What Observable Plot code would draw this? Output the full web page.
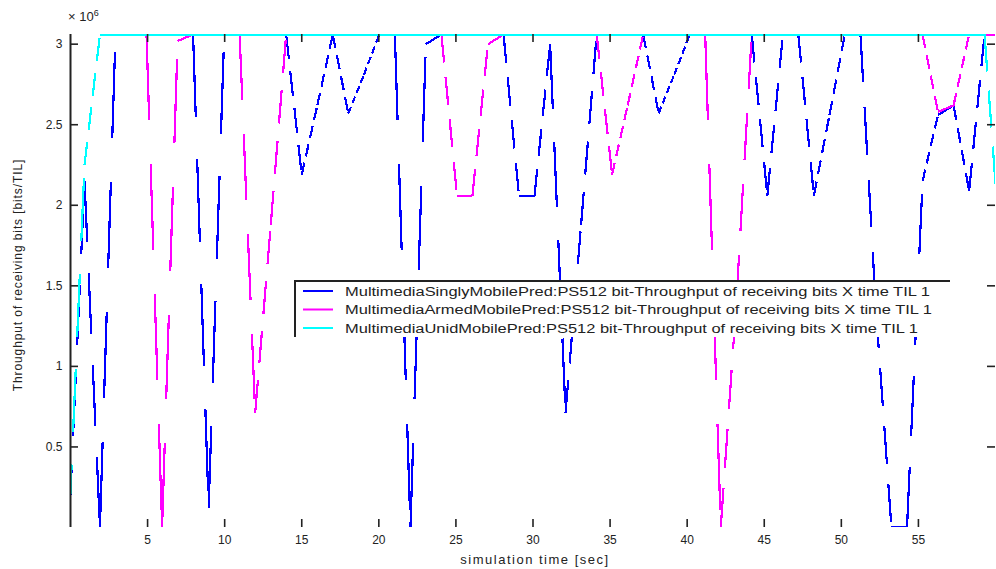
<!DOCTYPE html>
<html>
<head>
<meta charset="utf-8">
<script src="https://cdn.jsdelivr.net/npm/d3@7"></script>
<script src="https://cdn.jsdelivr.net/npm/@observablehq/plot@0.6"></script>
<style>
  html, body { margin: 0; padding: 0; background: #fff; }
  #wrap { position: relative; width: 996px; height: 569px; overflow: hidden; font-family: "Liberation Sans", Arial, sans-serif; color: #222; }
  .ov { position: absolute; white-space: nowrap; }
</style>
</head>
<body>
<div id="wrap"></div>
<script>
// ---- data (throughput in units of 10^6 bits per TIL) ----
const time = [-0.1, 0.91, 1.91, 2.92, 3.93, 4.93, 5.94, 6.95, 7.95, 8.96, 9.97, 10.97, 11.98, 12.99, 13.99, 15.0, 16.01, 17.01, 18.02, 19.03, 20.03, 21.04, 22.05, 23.05, 24.06, 25.07, 26.07, 27.08, 28.09, 29.09, 30.1, 31.11, 32.11, 33.12, 34.13, 35.13, 36.14, 37.15, 38.15, 39.16, 40.17, 41.17, 42.18, 43.19, 44.19, 45.2, 46.21, 47.21, 48.22, 49.23, 50.23, 51.24, 52.25, 53.25, 54.26, 55.27, 56.27, 57.28, 58.29, 59.29, 60.3];

const blueValues = [0, 2.15, 0, 3.06, 3.06, 3.06, 3.06, 3.06, 3.06, 0.12, 3.06, 3.06, 3.06, 3.06, 3.06, 2.19, 2.62, 3.06, 2.57, 2.81, 3.06, 3.06, 0, 3.0, 3.06, 3.06, 3.06, 3.06, 3.06, 2.06, 2.06, 3.0, 0.71, 1.88, 3.06, 3.06, 3.06, 3.06, 2.57, 2.81, 3.06, 3.06, 3.06, 3.06, 3.06, 2.06, 3.06, 3.06, 2.06, 2.56, 3.06, 3.06, 1.35, 0, 0, 2.15, 2.56, 2.62, 2.09, 3.06, 3.06];

const magentaValues = [0, 2.25, 3.06, 3.06, 3.06, 3.06, 0, 3.02, 3.06, 3.06, 3.06, 3.06, 0.71, 1.88, 3.06, 3.06, 3.06, 3.06, 3.06, 3.06, 3.06, 3.06, 3.06, 3.06, 3.06, 2.06, 2.06, 3.0, 3.06, 3.06, 3.06, 3.06, 3.06, 3.06, 3.06, 2.19, 2.62, 3.06, 3.06, 3.06, 3.06, 3.06, 0, 1.4, 3.06, 3.06, 3.06, 3.06, 3.06, 3.06, 3.06, 3.06, 3.06, 3.06, 3.06, 3.06, 2.58, 2.62, 3.06, 3.06, 3.06];

const cyanValues = [0, 2.25, 3.06, 3.06, 3.06, 3.06, 3.06, 3.06, 3.06, 3.06, 3.06, 3.06, 3.06, 3.06, 3.06, 3.06, 3.06, 3.06, 3.06, 3.06, 3.06, 3.06, 3.06, 3.06, 3.06, 3.06, 3.06, 3.06, 3.06, 3.06, 3.06, 3.06, 3.06, 3.06, 3.06, 3.06, 3.06, 3.06, 3.06, 3.06, 3.06, 3.06, 3.06, 3.06, 3.06, 3.06, 3.06, 3.06, 3.06, 3.06, 3.06, 3.06, 3.06, 3.06, 3.06, 3.06, 3.06, 3.06, 3.06, 3.06, 1.74];

const seriesNames = [
  "MultimediaSinglyMobilePred:PS512 bit-Throughput of receiving bits X time TIL 1",
  "MultimediaArmedMobilePred:PS512 bit-Throughput of receiving bits X time TIL 1",
  "MultimediaUnidMobilePred:PS512 bit-Throughput of receiving bits X time TIL 1"
];
const seriesColors = ["#0000ff", "#ff00ff", "#00ffff"];
const seriesValues = [blueValues, magentaValues, cyanValues];

const xTicks = [5, 10, 15, 20, 25, 30, 35, 40, 45, 50, 55];
const yTicks = [0.5, 1, 1.5, 2, 2.5, 3];
const xDomain = [0, 60];
const yDomain = [0, 3.06];

const xLabel = "simulation time [sec]";
const yLabel = "Throughput of receiving bits [bits/TIL]";

// ---- build ----
function segments(values) {
  const out = [];
  for (let i = 0; i < time.length - 1; i++) {
    out.push({x1: time[i], y1: values[i], x2: time[i + 1], y2: values[i + 1]});
  }
  return out;
}

const W = 996, H = 569, mL = 70, mR = 1, mT = 34, mB = 42;
const fW = W - mL - mR, fH = H - mT - mB;
const axisColor = "#222";

const chart = Plot.plot({
  width: W, height: H,
  marginLeft: mL, marginRight: mR, marginTop: mT, marginBottom: mB,
  style: {background: "#fff", color: axisColor, fontFamily: "'Liberation Sans', Arial, sans-serif", fontSize: "12px"},
  x: {domain: xDomain, ticks: xTicks, tickSize: 0, tickPadding: 8, tickFormat: d => String(d), label: null},
  y: {domain: yDomain, ticks: yTicks, tickSize: 0, tickPadding: 8, tickFormat: d => String(d), label: null},
  marks: [
    ...seriesValues.map((vals, s) => Plot.link(segments(vals), {
      x1: "x1", y1: "y1", x2: "x2", y2: "y2",
      stroke: seriesColors[s], strokeWidth: 2.2, clip: true
    })),
    Plot.ruleX([0], {stroke: axisColor, strokeWidth: 2}),
    Plot.tickX(xTicks, {x: d => d, insetTop: fH - 8, stroke: axisColor, strokeWidth: 1.6}),
    Plot.tickX(xTicks, {x: d => d, insetBottom: fH - 8, stroke: axisColor, strokeWidth: 1.6}),
    Plot.tickY(yTicks, {y: d => d, insetRight: fW - 8, stroke: axisColor, strokeWidth: 1.6}),
    Plot.tickY(yTicks, {y: d => d, insetLeft: fW - 8, stroke: axisColor, strokeWidth: 1.6})
  ]
});

const wrap = document.getElementById("wrap");
wrap.appendChild(chart);

// MATLAB-like dashes: dash period follows the horizontal extent of each segment
chart.querySelectorAll('g[aria-label="link"]').forEach(g => g.setAttribute("shape-rendering", "crispEdges"));
chart.querySelectorAll('g[aria-label="link"] path').forEach(p => {
  const L = p.getTotalLength();
  const b = p.getBBox();
  const w = Math.max(b.width, 0.01);
  const ratio = L / w;
  if (ratio < 2) return;
  const period = 4.1 * ratio;
  p.setAttribute("stroke-dasharray", (period * 0.66).toFixed(2) + " " + (period * 0.34).toFixed(2));
});

// exponent
const expo = document.createElement("div");
expo.className = "ov";
expo.style.cssText = "left:68px;top:8px;font-size:13px;";
expo.innerHTML = "&times; 10<sup style='font-size:9px'>6</sup>";
wrap.appendChild(expo);

// axis labels
const xl = document.createElement("div");
xl.className = "ov";
xl.style.cssText = "left:535px;top:552px;transform:translateX(-50%);font-size:13px;letter-spacing:1.5px;";
xl.textContent = xLabel;
wrap.appendChild(xl);

const yl = document.createElement("div");
yl.className = "ov";
yl.style.cssText = "left:18px;top:275px;transform:translate(-50%,-50%) rotate(-90deg);font-size:12px;letter-spacing:0.9px;";
yl.textContent = yLabel;
wrap.appendChild(yl);

// legend
const ns = "http://www.w3.org/2000/svg";
const leg = document.createElementNS(ns, "svg");
leg.setAttribute("width", 656);
leg.setAttribute("height", 57);
leg.style.cssText = "position:absolute;left:294px;top:280px;";
const bg = document.createElementNS(ns, "rect");
bg.setAttribute("x", 0); bg.setAttribute("y", 0); bg.setAttribute("width", 656); bg.setAttribute("height", 57);
bg.setAttribute("fill", "#fff");
leg.appendChild(bg);
const border = document.createElementNS(ns, "path");
border.setAttribute("d", "M1,57 V1 H656");
border.setAttribute("fill", "none");
border.setAttribute("stroke", axisColor);
border.setAttribute("stroke-width", 2);
leg.appendChild(border);
const legendWidths = [585, 587, 573];
seriesNames.forEach((name, i) => {
  const cy = 11 + i * 18.5;
  const ln = document.createElementNS(ns, "line");
  ln.setAttribute("x1", 9); ln.setAttribute("x2", 39);
  ln.setAttribute("y1", cy); ln.setAttribute("y2", cy);
  ln.setAttribute("stroke", seriesColors[i]); ln.setAttribute("stroke-width", 2);
  leg.appendChild(ln);
  const tx = document.createElementNS(ns, "text");
  tx.setAttribute("x", 51); tx.setAttribute("y", cy + 4.5);
  tx.setAttribute("font-family", "'Liberation Sans', Arial, sans-serif");
  tx.setAttribute("font-size", 12);
  tx.setAttribute("fill", axisColor);
  tx.setAttribute("textLength", legendWidths[i]);
  tx.setAttribute("lengthAdjust", "spacingAndGlyphs");
  tx.textContent = name;
  leg.appendChild(tx);
});
wrap.appendChild(leg);
</script>
</body>
</html>
